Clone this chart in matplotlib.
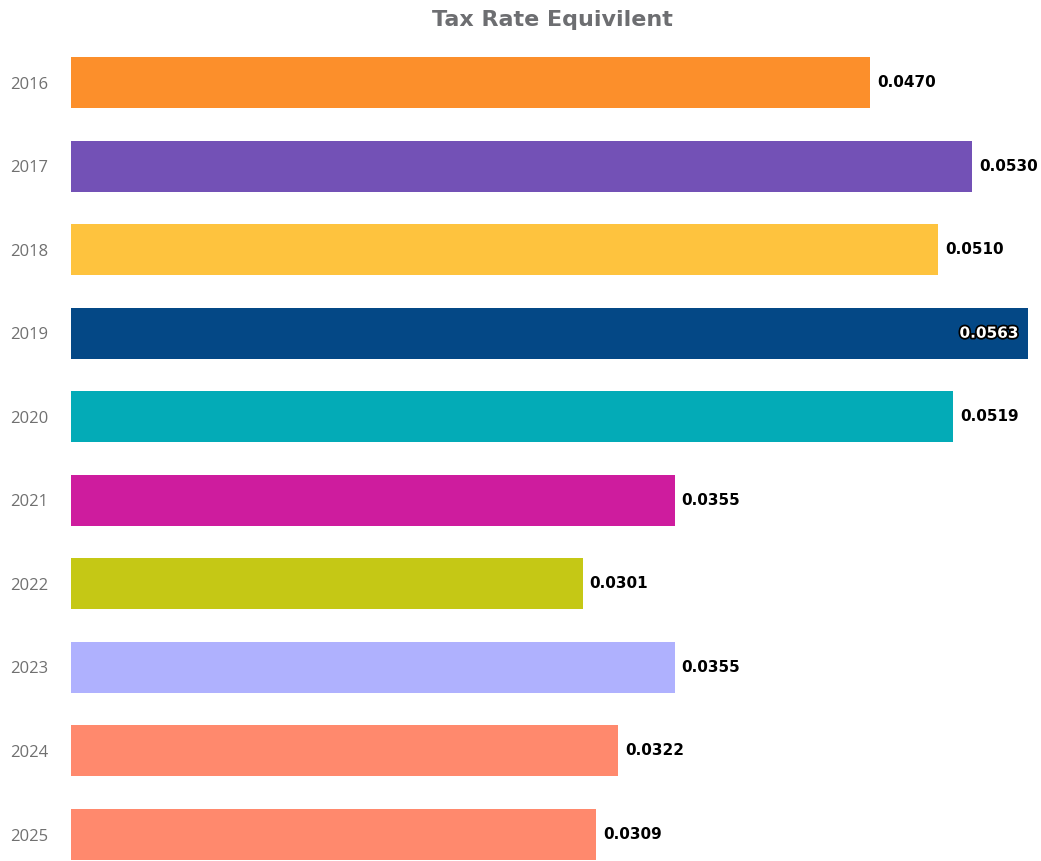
import matplotlib
matplotlib.use("Agg")
import matplotlib.pyplot as plt
import matplotlib.patheffects as pe

years = ["2016", "2017", "2018", "2019", "2020", "2021", "2022", "2023", "2024", "2025"]
rates = [0.0470, 0.0530, 0.0510, 0.0563, 0.0519, 0.0355, 0.0301, 0.0355, 0.0322, 0.0309]
colors = ["#FC8F2B", "#7351B6", "#FEC33E", "#044886", "#03ABB7",
          "#CE1C9E", "#C5C815", "#AFB1FE", "#FF896D", "#FF896D"]

W, H = 1041, 861
fig = plt.figure(figsize=(W / 100, H / 100), dpi=100)
# axes from x=71px to right edge, y from 40px to bottom edge
ax = fig.add_axes([71 / W, 0, 1 - 71 / W, (H - 40) / H])

pos = list(range(len(years)))
ax.barh(pos, rates, height=0.61, color=colors)
ax.set_xlim(0, (W - 71) / 17000)
ax.set_ylim(9.317, -0.509)

ax.set_yticks(pos)
ax.set_yticklabels(years, fontfamily="Open Sans", fontsize=12, color="#707070")
ax.tick_params(axis="y", length=0, pad=16.5)
ax.set_xticks([])
for s in ax.spines.values():
    s.set_visible(False)

xmax = ax.get_xlim()[1]
for p, v in zip(pos, rates):
    label = f"{v:.4f}"
    if v > xmax - 0.0015:
        ax.annotate(label, (v, p), xytext=(-7, 0), textcoords="offset points",
                    ha="right", va="center", fontsize=11, fontweight="bold",
                    color="white", fontfamily="DejaVu Sans",
                    path_effects=[pe.withStroke(linewidth=2.5, foreground="black")])
    else:
        ax.annotate(label, (v, p), xytext=(5, 0), textcoords="offset points",
                    ha="left", va="center", fontsize=11, fontweight="bold",
                    color="black", fontfamily="DejaVu Sans")

fig.text(552 / W, 1 - 20 / H, "Tax Rate Equivilent", ha="center", va="center",
         fontsize=16, fontweight="bold", color="#6D6E71", fontfamily="DejaVu Sans")

fig.savefig("out.png", dpi=100, facecolor="white")
